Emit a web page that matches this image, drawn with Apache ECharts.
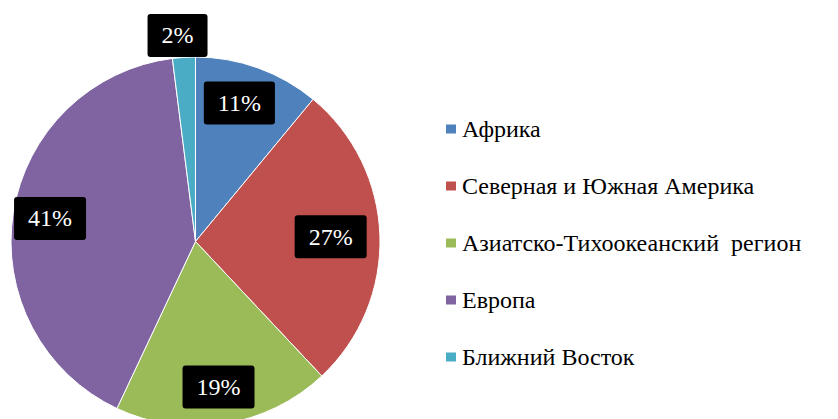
<!DOCTYPE html>
<html>
<head>
<meta charset="utf-8">
<script src="https://cdn.jsdelivr.net/npm/echarts@6/dist/echarts.min.js"></script>
<style>
  html, body { margin: 0; padding: 0; background: #fff; }
  #chart { width: 838px; height: 419px; }
</style>
</head>
<body>
<div id="chart"></div>
<script>
// регионы и доли, %
const regions = ['Африка', 'Северная и Южная Америка', 'Азиатско-Тихоокеанский  регион', 'Европа', 'Ближний Восток'];
const shares = [11, 27, 19, 41, 2];
const colors = ['#4F81BD', '#C0504D', '#9BBB59', '#8064A2', '#4BACC6'];

const font = "'Liberation Serif', 'Times New Roman', serif";
const center = [195.5, 241.5];
const R = 184.5;

const chart = echarts.init(document.getElementById('chart'), null, { renderer: 'svg' });

const boxLabel = {
  show: true,
  position: 'inside',
  formatter: '{c}%',
  color: '#fff',
  backgroundColor: '#000',
  borderRadius: 3,
  padding: [10, 14, 9, 14],
  fontFamily: font,
  fontSize: 24
};

const option = {
  animation: false,
  color: colors,
  textStyle: { fontFamily: font },
  legend: {
    orient: 'vertical',
    left: 444,
    top: 117,
    padding: 0,
    icon: 'rect',
    itemWidth: 12,
    itemHeight: 11,
    itemGap: 33,
    textStyle: { fontFamily: font, fontSize: 24, color: '#000', lineHeight: 24 },
    data: regions
  },
  series: [
    {
      // сам круг
      type: 'pie',
      center: center,
      radius: [0, R],
      startAngle: 90,
      silent: true,
      label: { show: false },
      labelLine: { show: false },
      itemStyle: { borderColor: '#fff', borderWidth: 1 },
      data: regions.map((n, i) => ({ name: n, value: shares[i] }))
    },
    {
      // невидимое кольцо только для подписей
      type: 'pie',
      center: center,
      radius: [104, R],
      startAngle: 90,
      silent: true,
      avoidLabelOverlap: false,
      itemStyle: { color: 'rgba(0,0,0,0)' },
      label: boxLabel,
      labelLine: { show: false, length: 22, length2: 0 },
      labelLayout: function (p) {
        if (p.dataIndex === 4) return { align: 'center' };
        if (p.dataIndex === 1) return { dx: -12 };
        if (p.dataIndex === 0) return { dx: -6 };
      },
      data: regions.map((n, i) => ({
        name: n,
        value: shares[i],
        label: i === 4 ? { position: 'outside' } : undefined
      }))
    }
  ]
};

chart.setOption(option);
</script>
</body>
</html>
